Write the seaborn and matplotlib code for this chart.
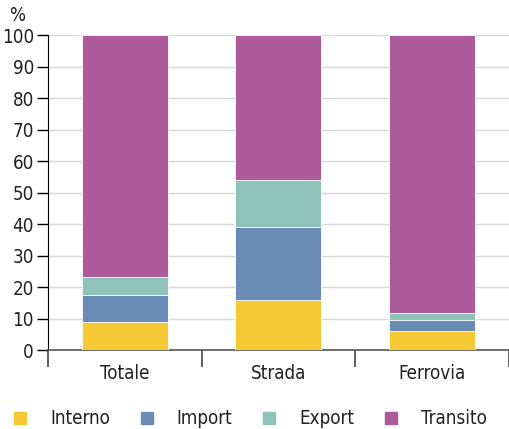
import numpy as np
import pandas as pd
import matplotlib
matplotlib.use("Agg")
import matplotlib.pyplot as plt
import seaborn as sns
from matplotlib.lines import Line2D

categories = ["Totale", "Strada", "Ferrovia"]
series = ["Interno", "Import", "Export", "Transito"]
interno = [9, 16, 6.2]
import_ = [8.5, 23, 3.3]
export = [5.8, 15, 2.2]
transito = [76.7, 46, 88.3]
colors = ["#F5C933", "#6A8BB3", "#8FC2B8", "#AD5B9A"]

sns.set_style("white")
plt.rcParams["font.family"] = ["DejaVu Sans"]
plt.rcParams["font.stretch"] = "condensed"
plt.rcParams["text.color"] = "#222222"

df = pd.DataFrame({"cat": categories, "Interno": interno, "Import": import_,
                   "Export": export, "Transito": transito})
# cumulative tops, drawn from the top layer down
cum = df[series].cumsum(axis=1)

fig = plt.figure(figsize=(5.1, 4.29), dpi=100)
ax = fig.add_axes([0.094, 0.184, 0.904, 0.734])

for s, c in zip(reversed(series), reversed(colors)):
    sns.barplot(x=df["cat"], y=cum[s], color=c, width=0.56, ax=ax,
                saturation=1, edgecolor="white", linewidth=0.6, zorder=3)

ax.set_ylim(0, 100)
ax.set_xlim(-0.5, 2.5)
ax.set_yticks(np.arange(0, 101, 10))
ax.yaxis.grid(True, color="#d9d9d9", linewidth=1, zorder=0)
ax.set_axisbelow(True)
ax.set_xlabel("")
ax.set_ylabel("")
for sp in ["top", "right"]:
    ax.spines[sp].set_visible(False)
ax.spines["left"].set_color("black")
ax.spines["bottom"].set_color("#555555")
ax.spines["bottom"].set_linewidth(1.2)
ax.tick_params(axis="y", left=True, length=8, width=1, color="black",
               labelsize=13.5, labelcolor="#222222", pad=2)
ax.tick_params(axis="x", which="major", bottom=True, length=0, labelsize=13.5,
               labelcolor="#222222", pad=10)
ax.set_xticks([-0.5, 0.5, 1.5, 2.5], minor=True)
ax.tick_params(axis="x", which="minor", bottom=True, length=12, width=1.2,
               color="#444444")
ax.set_xticklabels(categories)

fig.text(0.018, 0.952, "%", fontsize=13.5)

handles = [Line2D([0], [0], marker="s", linestyle="", markersize=9,
                  markerfacecolor=c, markeredgecolor=c) for c in colors]
fig.legend(handles, series, loc="lower left", ncol=4, mode="expand",
           bbox_to_anchor=(-0.012, -0.038, 1.0, 0.05), frameon=False,
           fontsize=13.5, handletextpad=1.1, handlelength=1)

fig.savefig("out.png", dpi=100)
